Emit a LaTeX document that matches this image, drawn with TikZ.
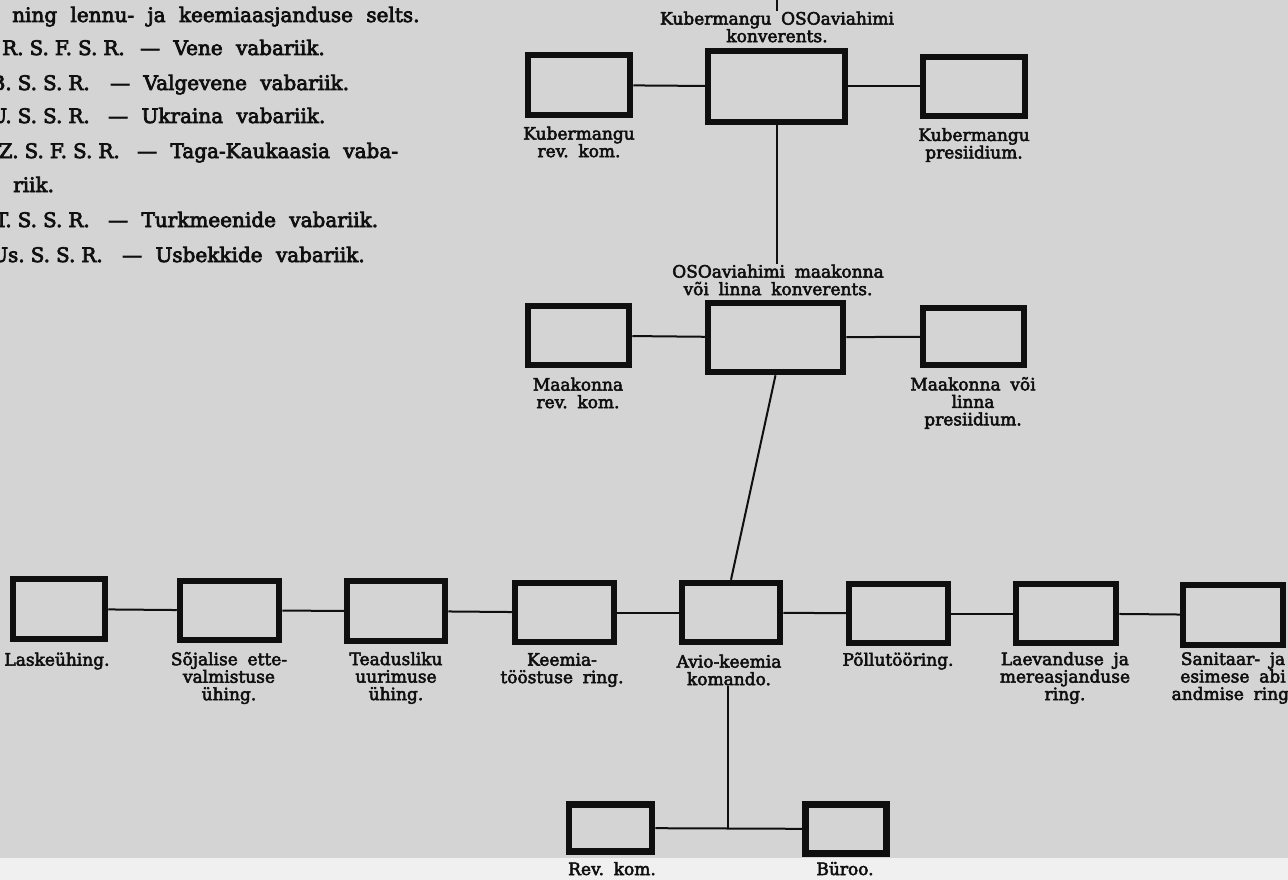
\documentclass[tikz,border=0pt]{standalone}
\usepackage{fontspec}
\setmainfont{DejaVu Serif}
\newfontfamily\oldtext[WordSpace=2.1,FakeBold=3.5]{DejaVu Serif}
\newfontfamily\labtext[WordSpace=1.8,FakeBold=3]{DejaVu Serif}
\definecolor{paper}{RGB}{212,212,212}
\definecolor{paperlight}{RGB}{240,240,240}
\definecolor{ink}{RGB}{15,15,15}
\newcommand{\ab}{\hspace{0.3em}}
\begin{document}
\begin{tikzpicture}[x=1pt,y=-1pt,
  box/.style={draw=ink,line width=6.5pt,inner sep=0pt},
  conn/.style={draw=ink,line width=2pt},
  lab/.style={font=\labtext\fontsize{17}{17.5}\selectfont,text=ink,align=center,inner sep=0pt},
  prose/.style={font=\oldtext\fontsize{20}{22}\selectfont,text=ink,inner sep=0pt}]
\useasboundingbox (0,0) rectangle (1288,880);
\clip (0,0) rectangle (1288,880);
\fill[paper] (0,0) rectangle (1288,858);
\fill[paperlight] (0,858) rectangle (1288,880);

% ---- text block top left
\node[prose,anchor=base west] (t1) at (12,22) {ning lennu- ja keemiaasjanduse selts.};
\node[prose,anchor=base east] (a2) at (125,55) {R.\ab S.\ab F.\ab S.\ab R.};
\node[prose,anchor=base west] (n2) at (140,55) {— Vene vabariik.};
\node[prose,anchor=base east] (a3) at (90,90) {B.\ab S.\ab S.\ab R.};
\node[prose,anchor=base west] (n3) at (110,90) {— Valgevene vabariik.};
\node[prose,anchor=base east] (a4) at (90,123) {U.\ab S.\ab S.\ab R.};
\node[prose,anchor=base west] (n4) at (108,123) {— Ukraina vabariik.};
\node[prose,anchor=base east] (a5) at (120,158) {Z.\ab S.\ab F.\ab S.\ab R.};
\node[prose,anchor=base west] (n5) at (137,158) {— Taga-Kaukaasia vaba-};
\node[prose,anchor=base west] (t6) at (13,192) {riik.};
\node[prose,anchor=base east] (a7) at (90,227) {T.\ab S.\ab S.\ab R.};
\node[prose,anchor=base west] (n7) at (108,227) {— Turkmeenide vabariik.};
\node[prose,anchor=base east] (a8) at (103,262) {Us.\ab S.\ab S.\ab R.};
\node[prose,anchor=base west] (n8) at (122,262) {— Usbekkide vabariik.};

% ---- top level
\node[box,minimum width=102,minimum height=60] (k1) at (579,85) {};
\node[box,minimum width=137,minimum height=71] (k2) at (776.5,86.5) {};
\node[box,minimum width=102,minimum height=59] (k3) at (974,86.5) {};
\node[lab] (k2l) at (777,27) {Kubermangu OSOaviahimi\\konverents.};
\node[lab] (k1l) at (579,142) {Kubermangu\\rev.\ kom.};
\node[lab] (k3l) at (974,145) {Kubermangu\\presiidium.};
\coordinate (top) at (777,-5);
\draw[conn] (top) -- (k2l.north -| top);
\draw[conn] (k1) -- (k2);
\draw[conn] (k2) -- (k3);

% ---- middle level
\node[box,minimum width=101,minimum height=59] (m1) at (578.5,335.5) {};
\node[box,minimum width=135,minimum height=69] (m2) at (775.5,337.5) {};
\node[box,minimum width=101,minimum height=57] (m3) at (973.5,336.5) {};
\node[lab] (m2l) at (778,280) {OSOaviahimi maakonna\\või linna konverents.};
\node[lab] (m1l) at (578,393) {Maakonna\\rev.\ kom.};
\node[lab] (m3l) at (973,403) {Maakonna või\\linna\\presiidium.};
\draw[conn] (k2.south) -- (k2.south |- m2l.north);
\draw[conn] (m1) -- (m2);
\draw[conn] (m2) -- (m3);

% ---- bottom row
\node[box,minimum width=92,minimum height=60] (b1) at (59,609) {};
\node[box,minimum width=99,minimum height=59] (b2) at (229.5,610.5) {};
\node[box,minimum width=98,minimum height=60] (b3) at (396,611) {};
\node[box,minimum width=99,minimum height=59] (b4) at (564.5,612.5) {};
\node[box,minimum width=98,minimum height=59] (b5) at (731,612.5) {};
\node[box,minimum width=99,minimum height=59] (b6) at (898.5,613.5) {};
\node[box,minimum width=100,minimum height=59] (b7) at (1066,613.5) {};
\node[box,minimum width=100,minimum height=60] (b8) at (1233,615) {};
\draw[conn] (m2.south) -- (b5.north);
\foreach \a/\b in {b1/b2,b2/b3,b3/b4,b4/b5,b5/b6,b6/b7,b7/b8}
  \draw[conn] (\a) -- (\b);
\node[lab] (b1l) at (57,661) {Laskeühing.};
\node[lab] (b2l) at (229,678) {Sõjalise ette-\\valmistuse\\ühing.};
\node[lab] (b3l) at (396,678) {Teadusliku\\uurimuse\\ühing.};
\node[lab] (b4l) at (562,670) {Keemia-\\tööstuse ring.};
\node[lab] (b5l) at (729,670) {Avio-keemia\\komando.};
\node[lab] (b6l) at (898,661) {Põllutööring.};
\node[lab] (b7l) at (1065,678) {Laevanduse ja\\mereasjanduse\\ring.};
\node[lab] (b8l) at (1233,678) {Sanitaar- ja\\esimese abi\\andmise ring.};

% ---- lowest level
\node[box,minimum width=83,minimum height=47] (r1) at (610.5,828) {};
\node[box,minimum width=81,minimum height=49] (r2) at (846,829) {};
\coordinate (j) at (728,828);
\draw[conn] (r1) -- (r2);
\draw[conn] (b5l.south -| j) -- (j);
\node[lab,anchor=base] (r1l) at (612,875) {Rev.\ kom.};
\node[lab,anchor=base] (r2l) at (845,875) {Büroo.};
\end{tikzpicture}
\end{document}
